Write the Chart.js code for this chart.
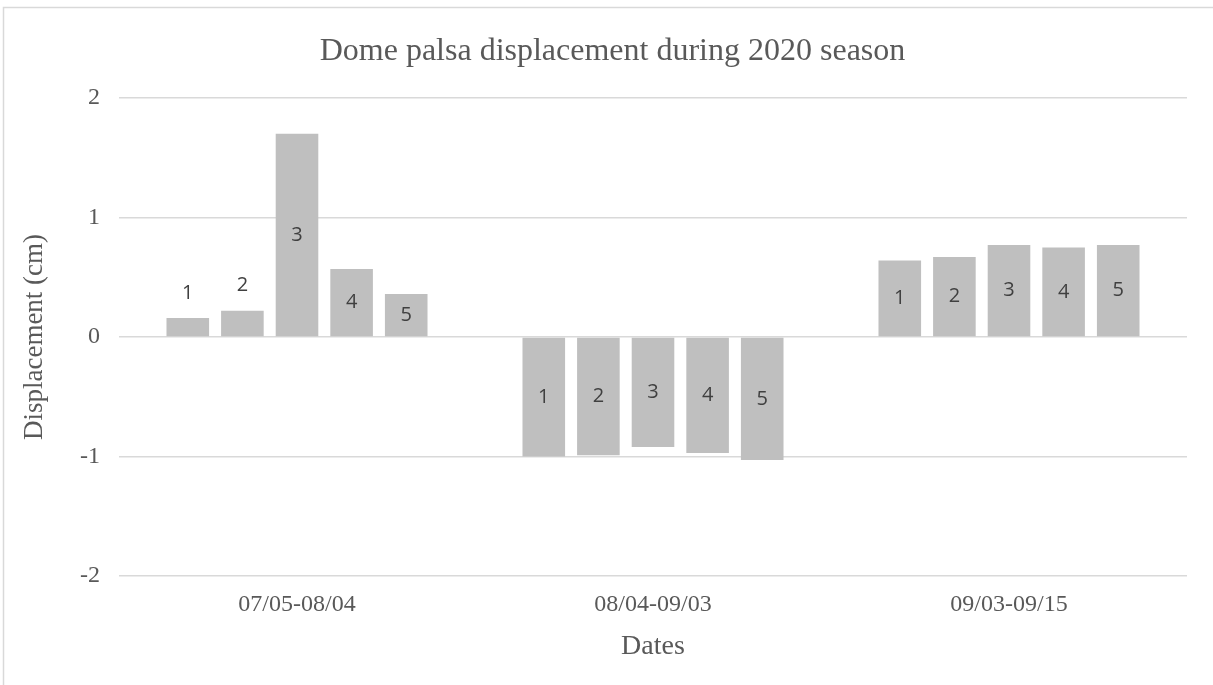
<!DOCTYPE html>
<html>
<head>
<meta charset="utf-8">
<script src="https://cdn.jsdelivr.net/npm/chart.js@4.4.1/dist/chart.umd.min.js"></script>
<style>
  html, body { margin: 0; padding: 0; background: #ffffff; }
  #wrap { width: 1213px; height: 685px; position: relative; }
</style>
</head>
<body>
<div id="wrap"><canvas id="chart" width="1213" height="685"></canvas></div>
<script>
// Data
const categories = ["07/05-08/04", "08/04-09/03", "09/03-09/15"];
const seriesNames = ["1", "2", "3", "4", "5"];
const point1 = [0.16, -1.00, 0.64];
const point2 = [0.22, -0.99, 0.67];
const point3 = [1.70, -0.92, 0.77];
const point4 = [0.57, -0.97, 0.75];
const point5 = [0.36, -1.03, 0.77];
const seriesValues = [point1, point2, point3, point4, point5];
const yTicks = [-2, -1, 0, 1, 2];

const serif = "'Liberation Serif', 'Times New Roman', serif";
const textColor = "#595959";
const gridColor = "#d9d9d9";

// Outer frame (left and top edge visible in the reference)
const framePlugin = {
  id: "frame",
  beforeDraw(chart) {
    const ctx = chart.ctx;
    ctx.save();
    ctx.strokeStyle = "#d9d9d9";
    ctx.lineWidth = 1.5;
    ctx.beginPath();
    ctx.moveTo(3.5, chart.height);
    ctx.lineTo(3.5, 7.5);
    ctx.lineTo(chart.width, 7.5);
    ctx.stroke();
    ctx.restore();
  }
};

// Series name written on each bar (above it when the bar is too short)
const barLabelPlugin = {
  id: "barLabels",
  afterDatasetsDraw(chart) {
    const ctx = chart.ctx;
    ctx.save();
    ctx.font = "20px 'Open Sans', 'Liberation Sans', sans-serif";
    ctx.fillStyle = "#404040";
    ctx.textAlign = "center";
    ctx.textBaseline = "middle";
    chart.data.datasets.forEach((ds, di) => {
      const meta = chart.getDatasetMeta(di);
      meta.data.forEach((bar) => {
        const h = Math.abs(bar.base - bar.y);
        let y = (bar.y + bar.base) / 2;
        if (h < 30) {
          y = Math.min(bar.y, bar.base) - 25;
        }
        ctx.fillText(ds.label, bar.x, y);
      });
    });
    ctx.restore();
  }
};

const datasets = seriesNames.map((name, i) => ({
  label: name,
  data: seriesValues[i],
  backgroundColor: "#bfbfbf",
  borderWidth: 0,
  categoryPercentage: 0.767,
  barPercentage: 0.78,
}));

new Chart(document.getElementById("chart"), {
  type: "bar",
  data: {
    labels: categories,
    datasets: datasets,
  },
  plugins: [framePlugin, barLabelPlugin],
  options: {
    responsive: false,
    animation: false,
    layout: {
      padding: { top: 0, right: 0, bottom: 0, left: 12 },
    },
    plugins: {
      legend: { display: false },
      tooltip: { enabled: false },
      title: {
        display: true,
        text: "Dome palsa displacement during 2020 season",
        color: textColor,
        font: { family: serif, size: 32, weight: "normal" },
        padding: { top: 32.8, bottom: 26.8 },
      },
    },
    scales: {
      x: {
        grid: { display: false, drawTicks: false },
        border: { display: false },
        ticks: {
          color: textColor,
          font: { family: serif, size: 24 },
          padding: 14,
          maxRotation: 0,
        },
        title: {
          display: true,
          text: "Dates",
          color: textColor,
          font: { family: serif, size: 28 },
          padding: { top: 0, bottom: 22 },
        },
        afterFit(scale) {
          scale.height = 109;
        },
      },
      y: {
        min: -2,
        max: 2,
        afterBuildTicks(scale) {
          scale.ticks = yTicks.map((v) => ({ value: v }));
        },
        grid: {
          color: gridColor,
          lineWidth: 1.5,
          drawTicks: false,
        },
        border: { display: false },
        ticks: {
          color: textColor,
          font: { family: serif, size: 24 },
          padding: 19,
        },
        title: {
          display: true,
          text: "Displacement (cm)",
          color: textColor,
          font: { family: serif, size: 27 },
          padding: { top: 7, bottom: 0 },
        },
        afterFit(scale) {
          scale.width = 107;
        },
      },
      // empty right margin so the title centres like the reference
      yRight: {
        position: "right",
        min: -2,
        max: 2,
        grid: { display: false, drawTicks: false },
        border: { display: false },
        ticks: { display: false },
        afterFit(scale) {
          scale.width = 26;
        },
      },
    },
  },
});
</script>
</body>
</html>
